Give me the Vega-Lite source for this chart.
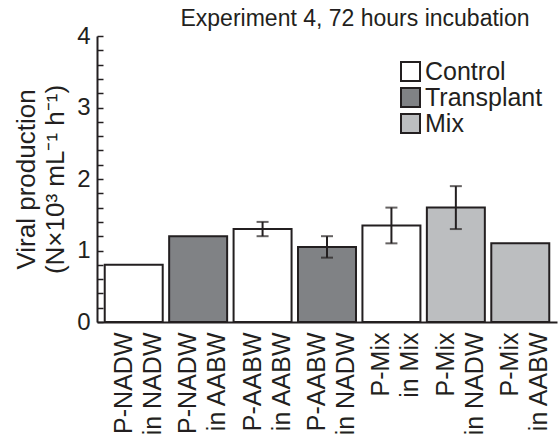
{
  "$schema": "https://vega.github.io/schema/vega-lite/v6.json",
  "autosize": "none",
  "width": 460,
  "height": 286,
  "padding": {"left": 97, "top": 36, "right": 3, "bottom": 123},
  "background": "white",
  "title": {
    "text": "Experiment 4, 72 hours incubation",
    "font": "Liberation Sans",
    "fontSize": 23,
    "fontWeight": "normal",
    "color": "#231f20",
    "anchor": "middle",
    "frame": "group",
    "dx": 28,
    "offset": -7
  },
  "config": {
    "view": {"stroke": null},
    "font": "Liberation Sans"
  },
  "data": {
    "values": [
      {"g": "P-NADW|in NADW", "t": "Control", "v": 0.8},
      {"g": "P-NADW|in AABW", "t": "Transplant", "v": 1.2},
      {"g": "P-AABW|in AABW", "t": "Control", "v": 1.3, "lo": 1.2, "hi": 1.4},
      {"g": "P-AABW|in NADW", "t": "Transplant", "v": 1.05, "lo": 0.9, "hi": 1.2},
      {"g": "P-Mix|in Mix", "t": "Control", "v": 1.35, "lo": 1.1, "hi": 1.6},
      {"g": "P-Mix|in NADW", "t": "Mix", "v": 1.6, "lo": 1.3, "hi": 1.9},
      {"g": "P-Mix|in AABW", "t": "Mix", "v": 1.1}
    ]
  },
  "resolve": {"axis": {"y": "independent"}},
  "encoding": {
    "x": {
      "field": "g",
      "type": "nominal",
      "sort": null,
      "scale": {"paddingInner": 0.1, "paddingOuter": 0.12},
      "axis": {
        "title": null,
        "labelExpr": "split(datum.label, '|')",
        "labelAngle": -90,
        "labelAlign": "right",
        "labelBaseline": "middle",
        "labelFontSize": 25,
        "labelLineHeight": 29,
        "labelOffset": -10,
        "labelColor": "#231f20",
        "labelPadding": 10,
        "ticks": false,
        "domainColor": "#231f20",
        "domainWidth": 2
      }
    }
  },
  "layer": [
    {
      "mark": {"type": "bar", "stroke": "#231f20", "strokeWidth": 2},
      "encoding": {
        "y": {
          "field": "v",
          "type": "quantitative",
          "scale": {"domain": [0, 4], "nice": false},
          "axis": {
            "values": [0, 0.2, 0.4, 0.6, 0.8, 1, 1.2, 1.4, 1.6, 1.8, 2, 2.2, 2.4, 2.6, 2.8, 3, 3.2, 3.4, 3.6, 3.8, 4],
            "labelExpr": "datum.value % 1 === 0 ? format(datum.value, 'd') : ''",
            "grid": false,
            "tickSize": -6,
            "tickWidth": 1.5,
            "tickColor": "#231f20",
            "domainColor": "#231f20",
            "domainWidth": 2,
            "labelFontSize": 24,
            "labelColor": "#231f20",
            "labelPadding": 13,
            "labelFlush": false,
            "labelOverlap": false,
            "title": ["Viral production", "(N×10³ mL⁻¹ h⁻¹)"],
            "titleFontSize": 26,
            "titleFontWeight": "normal",
            "titleColor": "#231f20",
            "titleLineHeight": 29,
            "titlePadding": 8
          }
        },
        "fill": {
          "field": "t",
          "type": "nominal",
          "scale": {"domain": ["Control", "Transplant", "Mix"], "range": ["#ffffff", "#808285", "#bcbec0"]},
          "legend": {
            "title": null,
            "orient": "none",
            "legendX": 301,
            "legendY": 23,
            "symbolType": "square",
            "symbolSize": 361,
            "symbolStrokeColor": "#231f20",
            "symbolStrokeWidth": 2,
            "labelFontSize": 25,
            "labelColor": "#231f20",
            "labelOffset": 2,
            "rowPadding": -8,
            "padding": 0
          }
        }
      }
    },
    {
      "mark": {"type": "errorbar", "ticks": {"size": 12, "thickness": 2, "color": "#231f20"}, "rule": {"strokeWidth": 2, "color": "#231f20"}},
      "encoding": {
        "y": {"field": "lo", "type": "quantitative", "axis": null},
        "y2": {"field": "hi"}
      }
    }
  ]
}
